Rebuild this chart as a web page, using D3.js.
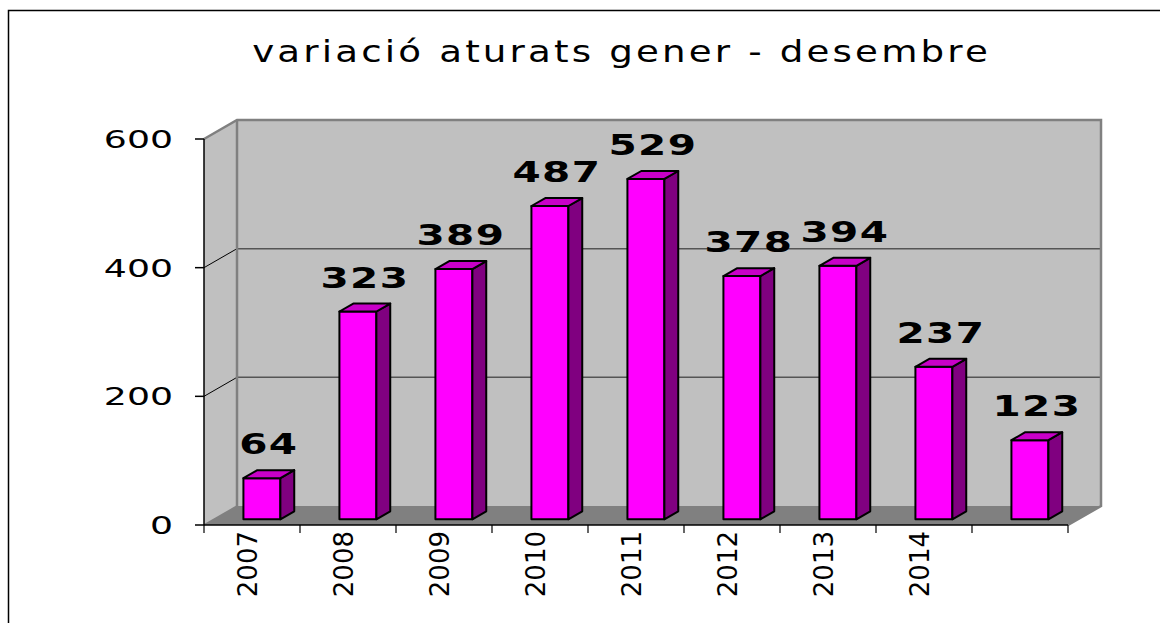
<!DOCTYPE html>
<html>
<head>
<meta charset="utf-8">
<script src="https://cdn.jsdelivr.net/npm/d3@7"></script>
<style>
  html, body { margin: 0; padding: 0; background: #fff; }
  text { font-family: "DejaVu Sans", Verdana, sans-serif; }
</style>
</head>
<body>
<div id="chart"></div>
<script>
const title = "variació aturats gener - desembre";
const categories = ["2007", "2008", "2009", "2010", "2011", "2012", "2013", "2014", ""];
const values = [64, 323, 389, 487, 529, 378, 394, 237, 123];
const yTicks = [0, 200, 400, 600];

const width = 1160, height = 623;
const plot = { left: 204, right: 1068, top: 139, bottom: 525 };
const DX = 33, DY = -19;          // wall depth
const barZ0 = 0.3, barZ = 0.42;   // bar front position and depth, as fraction of wall depth

const svg = d3.select("#chart")
    .append("svg")
    .attr("width", width)
    .attr("height", height);

// outer frame (only left/top edges visible)
svg.append("path")
    .attr("d", `M8.5,${height} L8.5,10.5 L${width},10.5`)
    .attr("fill", "none")
    .attr("stroke", "#000")
    .attr("stroke-width", 1.5);

const x = d3.scaleBand()
    .domain(categories)
    .range([plot.left, plot.right])
    .padding(0);

const y = d3.scaleLinear()
    .domain([0, 600])
    .range([plot.bottom, plot.top]);

const pts = a => a.map(p => p.join(",")).join(" ");

// left side wall
svg.append("polygon")
    .attr("points", pts([[plot.left, y(600)], [plot.left + DX, y(600) + DY], [plot.left + DX, y(0) + DY], [plot.left, y(0)]]))
    .attr("fill", "#c0c0c0");

// back wall
svg.append("rect")
    .attr("x", plot.left + DX)
    .attr("y", y(600) + DY)
    .attr("width", plot.right - plot.left)
    .attr("height", y(0) - y(600))
    .attr("fill", "#c0c0c0");

// floor
svg.append("polygon")
    .attr("points", pts([[plot.left, y(0)], [plot.right, y(0)], [plot.right + DX, y(0) + DY], [plot.left + DX, y(0) + DY]]))
    .attr("fill", "#808080");

// gridlines
const grid = yTicks.filter(t => t > 0 && t < 600);
svg.selectAll(".gridBack")
    .data(grid)
    .enter()
    .append("line")
    .attr("x1", plot.left + DX)
    .attr("x2", plot.right + DX)
    .attr("y1", d => y(d) + DY)
    .attr("y2", d => y(d) + DY)
    .attr("stroke", "#555")
    .attr("stroke-width", 1.5);

svg.selectAll(".gridSide")
    .data(grid)
    .enter()
    .append("line")
    .attr("x1", plot.left)
    .attr("x2", plot.left + DX)
    .attr("y1", d => y(d))
    .attr("y2", d => y(d) + DY)
    .attr("stroke", "#000")
    .attr("stroke-width", 1);

// wall edges
svg.append("path")
    .attr("d", `M${plot.left},${y(600)} L${plot.left + DX},${y(600) + DY} L${plot.right + DX},${y(600) + DY} L${plot.right + DX},${y(0) + DY} L${plot.right},${y(0)}`)
    .attr("fill", "none")
    .attr("stroke", "#808080")
    .attr("stroke-width", 2.5);

svg.append("line")
    .attr("x1", plot.left + DX).attr("x2", plot.left + DX)
    .attr("y1", y(600) + DY).attr("y2", y(0) + DY)
    .attr("stroke", "#808080")
    .attr("stroke-width", 2.5);

svg.append("line")
    .attr("x1", plot.left).attr("x2", plot.left + DX)
    .attr("y1", y(0)).attr("y2", y(0) + DY)
    .attr("stroke", "#808080")
    .attr("stroke-width", 1.5);

// bars
const barW = x.bandwidth() * 0.385;
const fx = DX * barZ0, fy = DY * barZ0;
const bdx = DX * barZ, bdy = DY * barZ;
const data = categories.map((c, i) => ({ cat: c, value: values[i] }));
const bx = d => x(d.cat) + (x.bandwidth() - barW) / 2 + fx;

const bars = svg.selectAll(".bar")
    .data(data)
    .enter()
    .append("g")
    .attr("class", "bar")
    .attr("stroke", "#000")
    .attr("stroke-width", 2)
    .attr("stroke-linejoin", "round");

bars.append("rect")
    .attr("x", d => bx(d))
    .attr("y", d => y(d.value) + fy)
    .attr("width", barW)
    .attr("height", d => y(0) - y(d.value))
    .attr("fill", "#ff00ff");

bars.append("polygon")
    .attr("points", d => pts([
        [bx(d) + barW, y(d.value) + fy],
        [bx(d) + barW + bdx, y(d.value) + fy + bdy],
        [bx(d) + barW + bdx, y(0) + fy + bdy],
        [bx(d) + barW, y(0) + fy]]))
    .attr("fill", "#800080");

bars.append("polygon")
    .attr("points", d => pts([
        [bx(d), y(d.value) + fy],
        [bx(d) + bdx, y(d.value) + fy + bdy],
        [bx(d) + barW + bdx, y(d.value) + fy + bdy],
        [bx(d) + barW, y(d.value) + fy]]))
    .attr("fill", "#c800c8");

// value labels
svg.selectAll(".valueLabel")
    .data(data)
    .enter()
    .append("text")
    .attr("class", "valueLabel")
    .attr("transform", d => `translate(${bx(d) + (barW + bdx) / 2},${y(d.value) + fy + bdy - 16}) scale(1.4,1)`)
    .attr("text-anchor", "middle")
    .attr("font-size", 29)
    .attr("font-weight", "bold")
    .attr("letter-spacing", 1)
    .attr("fill", "#000")
    .text(d => d.value);

// y axis
svg.append("line")
    .attr("x1", plot.left).attr("x2", plot.left)
    .attr("y1", y(600)).attr("y2", y(0))
    .attr("stroke", "#000").attr("stroke-width", 1.5);

svg.selectAll(".yTick")
    .data(yTicks)
    .enter()
    .append("line")
    .attr("x1", plot.left - 9).attr("x2", plot.left)
    .attr("y1", d => y(d)).attr("y2", d => y(d))
    .attr("stroke", "#000").attr("stroke-width", 1.5);

svg.selectAll(".yLabel")
    .data(yTicks)
    .enter()
    .append("text")
    .attr("transform", d => `translate(${plot.left - 31},${y(d) + 9}) scale(1.45,1)`)
    .attr("text-anchor", "end")
    .attr("font-size", 25)
    .attr("fill", "#000")
    .text(d => d);

// x axis
svg.append("line")
    .attr("x1", plot.left).attr("x2", plot.right)
    .attr("y1", y(0)).attr("y2", y(0))
    .attr("stroke", "#000").attr("stroke-width", 1.5);

svg.selectAll(".xTick")
    .data(categories.map(c => x(c)).concat([plot.right]))
    .enter()
    .append("line")
    .attr("x1", d => d).attr("x2", d => d)
    .attr("y1", y(0)).attr("y2", y(0) + 8)
    .attr("stroke", "#000").attr("stroke-width", 1.2);

svg.selectAll(".xLabel")
    .data(categories)
    .enter()
    .append("text")
    .attr("transform", d => `translate(${x(d) + x.bandwidth() / 2 + 5},${y(0) + 6}) rotate(-90)`)
    .attr("text-anchor", "end")
    .attr("font-size", 26)
    .attr("fill", "#000")
    .text(d => d);

// title
svg.append("text")
    .attr("transform", "translate(620,62) scale(1.2,1)")
    .attr("text-anchor", "middle")
    .attr("font-size", 31)
    .attr("textLength", 613)
    .attr("lengthAdjust", "spacing")
    .attr("fill", "#000")
    .text(title);
</script>
</body>
</html>
